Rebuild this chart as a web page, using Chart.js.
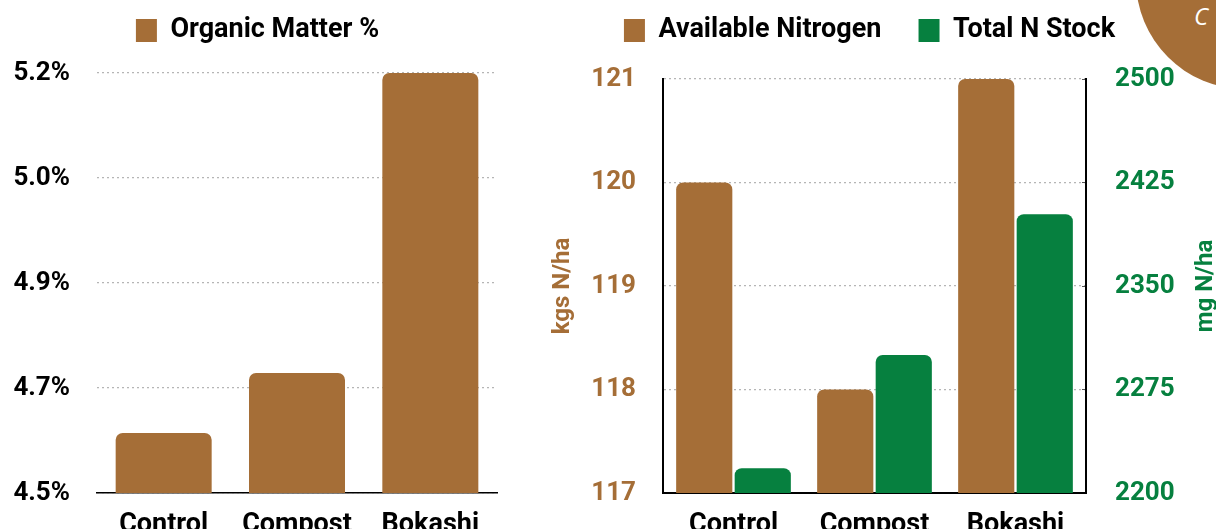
<!DOCTYPE html>
<html>
<head>
<meta charset="utf-8">
<script src="https://cdn.jsdelivr.net/npm/chart.js@4"></script>
<style>
  html, body { margin: 0; padding: 0; background: #fff; overflow: hidden; }
  #wrap { position: relative; width: 1216px; height: 529px; }
  #omChart { position: absolute; left: 0; top: 0; }
  #nChart { position: absolute; left: 540px; top: 0; }
  #badge {
    position: absolute; left: 1136px; top: -129px; width: 218px; height: 218px;
    border-radius: 50%; background: #a56e37;
  }
  #badgeText {
    position: absolute; left: 1194px; top: -1px; color: #fff;
    font: italic 24px "Open Sans", sans-serif;
  }
</style>
</head>
<body>
<div id="wrap">
  <canvas id="omChart" width="540" height="529"></canvas>
  <canvas id="nChart" width="676" height="529"></canvas>
  <div id="badge"></div>
  <div id="badgeText">C</div>
</div>
<script>
const categories = ["Control", "Compost", "Bokashi"];

// Organic matter (%)
const organicMatter = [4.6, 4.7, 5.2];
const omTicks = [4.5, 4.675, 4.85, 5.025, 5.2];
const omTickLabels = ["4.5%", "4.7%", "4.9%", "5.0%", "5.2%"];

// Nitrogen
const availableN = [120, 118, 121];     // kgs N/ha
const totalNStock = [2218, 2300, 2402]; // mg N/ha

const BROWN = "#a56e37";
const GREEN = "#06803f";
const FONT = "Roboto, 'Liberation Sans', sans-serif";

Chart.defaults.font.family = FONT;
Chart.defaults.font.weight = "bold";
Chart.defaults.font.size = 27;
Chart.defaults.color = "#000";
Chart.defaults.animation = false;

const tickFont = { size: 26, weight: "bold" };
const gridDots = { color: "#b5b5b5", lineWidth: 1.2, drawTicks: false };

const legendOpts = {
    position: "top",
    labels: { boxWidth: 21, boxHeight: 23, padding: 17, font: { size: 27, weight: "bold" } }
};

// empty axes, only used to leave room around the plot
function spacer(pos, size) {
    return {
        type: "linear",
        position: pos,
        grid: { display: false },
        border: { display: false },
        ticks: { display: false },
        afterFit: a => {
            if (pos === "top") a.height = size; else a.width = size;
        }
    };
}

function xAxis(borderWidth) {
    return {
        position: "bottom",
        grid: { display: false },
        border: { color: "#000", width: borderWidth },
        ticks: { padding: 8 },
        afterFit: a => { a.height = 36; }
    };
}

// fixed width for a y axis; drop the label overhang padding so it doesn't push the plot up
function fixWidth(w) {
    return a => {
        a.width = w;
        a.paddingTop = 0;
        a.paddingBottom = 0;
    };
}

// axis titles drawn rotated bottom-to-top on both sides
const sideTitles = {
    id: "sideTitles",
    afterDraw(chart, args, opts) {
        const ctx = chart.ctx;
        const area = chart.chartArea;
        ctx.save();
        ctx.font = "bold 24px " + FONT;
        ctx.textAlign = "center";
        ctx.textBaseline = "middle";
        opts.items.forEach(t => {
            ctx.save();
            ctx.translate(t.x, (area.top + area.bottom) / 2);
            ctx.rotate(-Math.PI / 2);
            ctx.fillStyle = t.color;
            ctx.fillText(t.text, 0, 0);
            ctx.restore();
        });
        ctx.restore();
    }
};

// --- Organic matter chart ---
new Chart(document.getElementById("omChart"), {
    type: "bar",
    data: {
        labels: categories,
        datasets: [{
            label: "Organic Matter %",
            data: organicMatter,
            xAxisID: "x",
            yAxisID: "y",
            backgroundColor: BROWN,
            borderRadius: 7,
            borderSkipped: "start",
            categoryPercentage: 0.8,
            barPercentage: 0.9
        }]
    },
    options: {
        responsive: false,
        layout: { autoPadding: false, padding: { left: 0, right: 25, top: 0, bottom: 0 } },
        plugins: { legend: legendOpts, tooltip: { enabled: false } },
        scales: {
            x: xAxis(1.5),
            y: {
                position: "left",
                min: 4.5,
                max: 5.2,
                afterBuildTicks: axis => { axis.ticks = omTicks.map(v => ({ value: v })); },
                afterFit: fixWidth(97),
                ticks: {
                    padding: 27,
                    font: tickFont,
                    callback: (v, i) => omTickLabels[i]
                },
                grid: gridDots,
                border: { display: false, dash: [2, 3] }
            },
            top: spacer("top", 19),
            right: spacer("right", 18)
        }
    }
});

// --- Nitrogen chart ---
new Chart(document.getElementById("nChart"), {
    type: "bar",
    data: {
        labels: categories,
        datasets: [
            {
                label: "Available Nitrogen   ",
                data: availableN,
                backgroundColor: BROWN,
                xAxisID: "x",
                yAxisID: "y",
                borderRadius: 7,
                borderSkipped: "start",
                categoryPercentage: 0.83,
                barPercentage: 0.96
            },
            {
                label: "Total N Stock",
                data: totalNStock,
                backgroundColor: GREEN,
                xAxisID: "x",
                yAxisID: "y1",
                borderRadius: 7,
                borderSkipped: "start",
                categoryPercentage: 0.83,
                barPercentage: 0.96
            }
        ]
    },
    options: {
        responsive: false,
        layout: { autoPadding: false, padding: { left: 0, right: 17, top: 0, bottom: 0 } },
        plugins: {
            legend: legendOpts,
            tooltip: { enabled: false },
            sideTitles: {
                items: [
                    { text: "kgs N/ha", color: BROWN, x: 23 },
                    { text: "mg N/ha", color: GREEN, x: 666 }
                ]
            }
        },
        scales: {
            x: xAxis(2),
            y: {
                position: "left",
                min: 117,
                max: 121,
                afterFit: fixWidth(123),
                ticks: { stepSize: 1, padding: 27, color: BROWN, font: tickFont },
                grid: gridDots,
                border: { color: "#000", width: 2, dash: [2, 3] }
            },
            y1: {
                position: "right",
                min: 2200,
                max: 2500,
                afterFit: fixWidth(113),
                ticks: {
                    stepSize: 75, padding: 33, color: GREEN, font: tickFont,
                    callback: v => String(v)
                },
                grid: { drawOnChartArea: false, drawTicks: true, tickLength: -4, color: "#555", lineWidth: 1 },
                border: { color: "#000", width: 2 }
            },
            top: spacer("top", 25)
        }
    },
    plugins: [sideTitles]
});
</script>
</body>
</html>
